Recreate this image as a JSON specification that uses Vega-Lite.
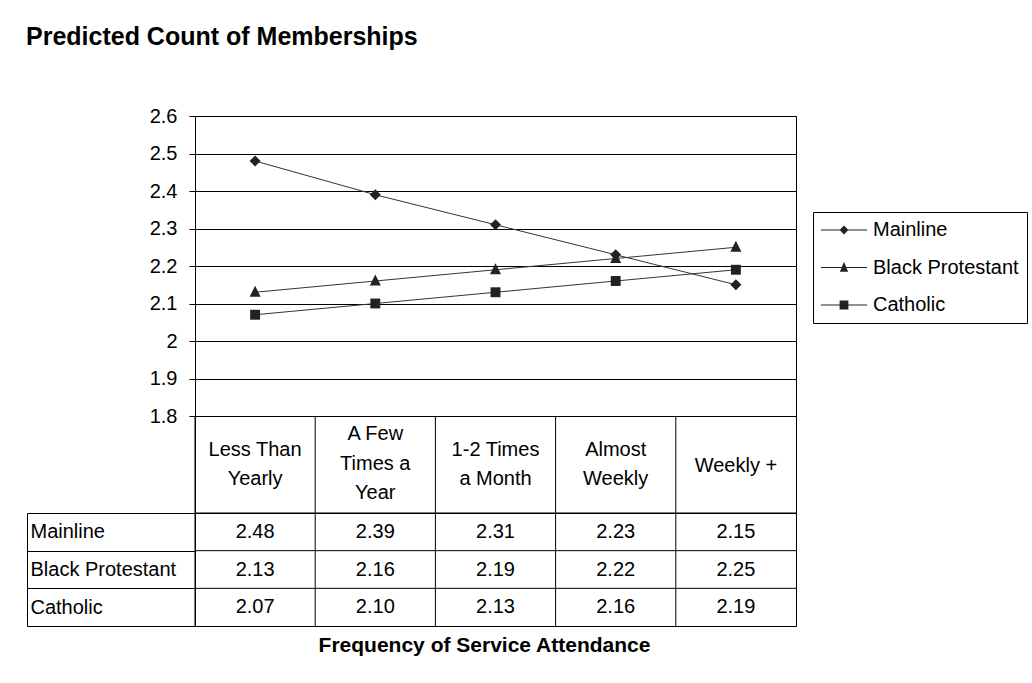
{
  "$schema": "https://vega.github.io/schema/vega-lite/v6.json",
  "padding": {"left": 26, "top": 24, "right": 0, "bottom": 0},
  "background": "#ffffff",
  "config": {
    "font": "Liberation Sans",
    "view": {"stroke": "#000", "strokeWidth": 1},
    "axis": {"labelColor": "#000", "titleColor": "#000", "labelFontSize": 20, "domainColor": "#000", "tickColor": "#000", "gridColor": "#000", "gridOpacity": 1, "labelFont": "Liberation Sans", "titleFont": "Liberation Sans"},
    "legend": {"labelFont": "Liberation Sans"}
  },
  "title": {"text": "Predicted Count of Memberships", "anchor": "start", "fontSize": 25, "fontWeight": "bold", "color": "#000", "offset": 56, "frame": "bounds"},
  "datasets": {
    "pred": [
      {"religion": "Mainline", "attendance": "Less Than Yearly", "count": 2.48},
      {"religion": "Mainline", "attendance": "A Few Times a Year", "count": 2.39},
      {"religion": "Mainline", "attendance": "1-2 Times a Month", "count": 2.31},
      {"religion": "Mainline", "attendance": "Almost Weekly", "count": 2.23},
      {"religion": "Mainline", "attendance": "Weekly +", "count": 2.15},
      {"religion": "Black Protestant", "attendance": "Less Than Yearly", "count": 2.13},
      {"religion": "Black Protestant", "attendance": "A Few Times a Year", "count": 2.16},
      {"religion": "Black Protestant", "attendance": "1-2 Times a Month", "count": 2.19},
      {"religion": "Black Protestant", "attendance": "Almost Weekly", "count": 2.22},
      {"religion": "Black Protestant", "attendance": "Weekly +", "count": 2.25},
      {"religion": "Catholic", "attendance": "Less Than Yearly", "count": 2.07},
      {"religion": "Catholic", "attendance": "A Few Times a Year", "count": 2.10},
      {"religion": "Catholic", "attendance": "1-2 Times a Month", "count": 2.13},
      {"religion": "Catholic", "attendance": "Almost Weekly", "count": 2.16},
      {"religion": "Catholic", "attendance": "Weekly +", "count": 2.19}
    ],
    "header": [
      {"attendance": "Less Than Yearly", "label": "Less Than\nYearly"},
      {"attendance": "A Few Times a Year", "label": "A Few\nTimes a\nYear"},
      {"attendance": "1-2 Times a Month", "label": "1-2 Times\na Month"},
      {"attendance": "Almost Weekly", "label": "Almost\nWeekly"},
      {"attendance": "Weekly +", "label": "Weekly +"}
    ]
  },
  "spacing": 0,
  "bounds": "flush",
  "vconcat": [
    {
      "width": 601,
      "height": 300,
      "data": {"name": "pred"},
      "resolve": {"scale": {"shape": "independent"}, "legend": {"shape": "independent"}},
      "encoding": {
        "x": {"field": "attendance", "type": "ordinal", "scale": {"type": "point", "padding": 0.5, "domain": ["Less Than Yearly", "A Few Times a Year", "1-2 Times a Month", "Almost Weekly", "Weekly +"]}, "axis": null},
        "y": {"field": "count", "type": "quantitative", "scale": {"domain": [1.8, 2.6], "zero": false, "nice": false}, "axis": {"values": [1.8, 1.9, 2, 2.1, 2.2, 2.3, 2.4, 2.5, 2.6], "grid": true, "tickSize": 6, "labelPadding": 12, "labelExpr": "datum.value + ''", "title": null, "domain": true}}
      },
      "layer": [
        {"mark": {"type": "line", "color": "#333", "strokeWidth": 1}, "encoding": {"detail": {"field": "religion", "type": "nominal"}}},
        {"mark": {"type": "point", "filled": true, "color": "#222", "opacity": 1, "size": 121}, "encoding": {"shape": {"field": "religion", "type": "nominal", "scale": {"domain": ["Mainline", "Black Protestant", "Catholic"], "range": ["M-1,0L0,-1L1,0L0,1Z", "M-1,0.8L0,-1.2L1,0.8Z", "M-0.9,-0.9H0.9V0.9H-0.9Z"]}, "legend": null}}},
        {"mark": {"type": "point", "filled": true, "color": "#222", "opacity": 0, "size": 121}, "encoding": {"shape": {"field": "religion", "type": "nominal", "scale": {"domain": ["Mainline", "Black Protestant", "Catholic"], "range": ["M-4.2,-0.1H4.2V0.1H-4.2ZM-0.8,0L0,-0.8L0.8,0L0,0.8Z", "M-4.2,-0.1H4.2V0.1H-4.2ZM-0.75,0.75L0,-1.05L0.75,0.75Z", "M-4.2,-0.1H4.2V0.1H-4.2ZM-0.8,-0.8H0.8V0.8H-0.8Z"]}, "legend": {"title": null, "orient": "none", "legendX": 618, "legendY": 96, "strokeColor": "#000", "fillColor": "#fff", "padding": 8, "labelFontSize": 20, "labelColor": "#000", "labelLimit": 400, "rowPadding": 17.5, "symbolSize": 121, "symbolOffset": 13, "labelOffset": 19, "symbolStrokeWidth": 0, "symbolOpacity": 1, "symbolFillColor": "#222", "symbolStrokeColor": "#222", "cornerRadius": 0, "encode": {"symbols": {"update": {"opacity": {"value": 1}, "fill": {"value": "#222"}, "strokeWidth": {"value": 0}}}}}}}}
      ]
    },
    {
      "width": 601,
      "height": 97,
      "data": {"name": "header"},
      "encoding": {"x": {"field": "attendance", "type": "ordinal", "scale": {"type": "band", "paddingInner": 0, "paddingOuter": 0, "domain": ["Less Than Yearly", "A Few Times a Year", "1-2 Times a Month", "Almost Weekly", "Weekly +"]}, "axis": null}},
      "layer": [
        {"mark": {"type": "rule", "color": "#000", "strokeWidth": 1}, "encoding": {"x": {"field": "attendance", "type": "ordinal", "bandPosition": 0, "scale": {"type": "band", "paddingInner": 0, "paddingOuter": 0, "domain": ["Less Than Yearly", "A Few Times a Year", "1-2 Times a Month", "Almost Weekly", "Weekly +"]}, "axis": null}}},
        {"transform": [{"filter": "length(split(datum.label, '\\n')) == 1"}], "mark": {"type": "text", "fontSize": 20, "lineBreak": "\n", "lineHeight": 29.5, "align": "center", "baseline": "middle", "dy": 1, "color": "#000"}, "encoding": {"text": {"field": "label", "type": "nominal"}}},
        {"transform": [{"filter": "length(split(datum.label, '\\n')) == 2"}], "mark": {"type": "text", "fontSize": 20, "lineBreak": "\n", "lineHeight": 29.5, "align": "center", "baseline": "middle", "dy": -15, "color": "#000"}, "encoding": {"text": {"field": "label", "type": "nominal"}}},
        {"transform": [{"filter": "length(split(datum.label, '\\n')) == 3"}], "mark": {"type": "text", "fontSize": 20, "lineBreak": "\n", "lineHeight": 29.5, "align": "center", "baseline": "middle", "dy": -30.5, "color": "#000"}, "encoding": {"text": {"field": "label", "type": "nominal"}}}
      ]
    },
    {
      "width": 601,
      "height": 113,
      "data": {"name": "pred"},
      "layer": [
        {"transform": [{"filter": "datum.religion === 'Mainline'"}], "mark": {"type": "rule", "color": "#000", "strokeWidth": 1}, "encoding": {"x": {"field": "attendance", "type": "ordinal", "bandPosition": 0, "scale": {"type": "band", "paddingInner": 0, "paddingOuter": 0, "domain": ["Less Than Yearly", "A Few Times a Year", "1-2 Times a Month", "Almost Weekly", "Weekly +"]}}}},
        {"transform": [{"filter": "datum.attendance === 'Weekly +'"}], "mark": {"type": "rule", "color": "#000", "strokeWidth": 1}, "encoding": {"y": {"field": "religion", "type": "nominal", "bandPosition": 0, "scale": {"type": "band", "paddingInner": 0, "paddingOuter": 0, "domain": ["Mainline", "Black Protestant", "Catholic"]}}}},
        {"mark": {"type": "text", "fontSize": 20, "align": "center", "baseline": "middle", "color": "#000"}, "encoding": {
          "x": {"field": "attendance", "type": "ordinal", "scale": {"type": "band", "paddingInner": 0, "paddingOuter": 0, "domain": ["Less Than Yearly", "A Few Times a Year", "1-2 Times a Month", "Almost Weekly", "Weekly +"]}, "axis": {"title": "Frequency of Service Attendance", "labels": false, "ticks": false, "domain": false, "grid": false, "titleFontSize": 21, "titleFontWeight": "bold", "titlePadding": 8, "titleX": 289}},
          "y": {"field": "religion", "type": "nominal", "scale": {"type": "band", "paddingInner": 0, "paddingOuter": 0, "domain": ["Mainline", "Black Protestant", "Catholic"]}, "axis": {"title": null, "offset": 168, "domain": true, "ticks": true, "tickBand": "extent", "tickSize": -168, "labelAlign": "left", "labelPadding": 165, "labelFontSize": 20, "grid": false}},
          "text": {"field": "count", "type": "quantitative", "format": ".2f"}}}
      ]
    }
  ]
}
